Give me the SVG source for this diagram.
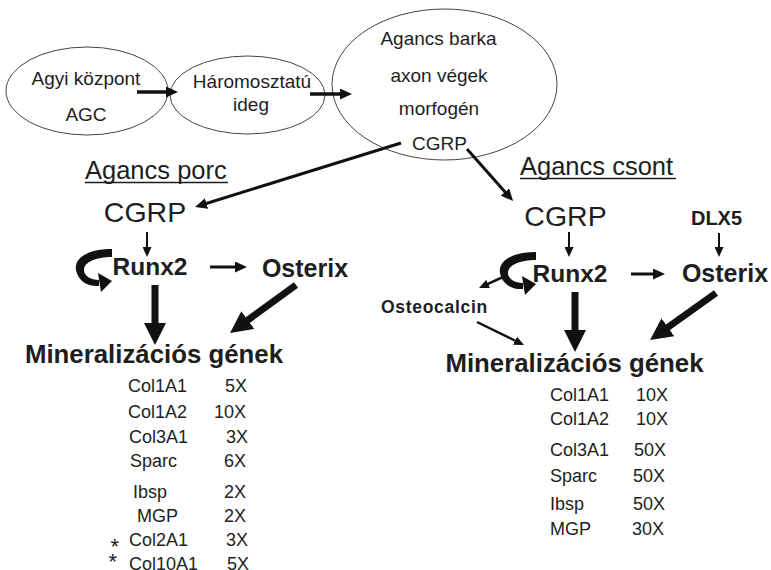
<svg xmlns="http://www.w3.org/2000/svg" width="771" height="570" viewBox="0 0 771 570">
<style>
text{font-family:"Liberation Sans",Arial,sans-serif;fill:#1e1e1e}
.e{font-size:19px}
.c{text-anchor:middle}
.h{font-size:25.5px}
.big{font-size:28.5px}
.b{font-weight:bold}
.l{font-size:18px}
.st{font-size:22px}
.ell{fill:none;stroke:#444;stroke-width:1}
.a{stroke:#111;fill:none}
</style>
<defs>
<marker id="m12" markerUnits="userSpaceOnUse" viewBox="0 0 12 11" markerWidth="12" markerHeight="11" refX="2" refY="5.5" orient="auto"><path d="M0,0 L12,5.5 L0,11 z" fill="#111"/></marker>
<marker id="m10" markerUnits="userSpaceOnUse" viewBox="0 0 10 9" markerWidth="10" markerHeight="9" refX="2" refY="4.5" orient="auto"><path d="M0,0 L10,4.5 L0,9 z" fill="#111"/></marker>
<marker id="m22" markerUnits="userSpaceOnUse" viewBox="0 0 22 22" markerWidth="22" markerHeight="22" refX="3" refY="11" orient="auto"><path d="M0,0 L22,11 L0,22 z" fill="#111"/></marker>
<g id="curl">
<path d="M112,249 C88,249 74,258 76,270 C78,281 88,287 99,286 L99,280 C91,280 84,276 84,270 C84,262 96,257 112,257 Z" fill="#111"/>
<polygon points="112,281 98,273 101,292" fill="#111"/>
</g>
</defs>

<g id="node-agyi">
<ellipse class="ell" cx="87" cy="91" rx="81" ry="44"/>
<text class="e c" x="86" y="85">Agyi központ</text>
<text class="e c" x="86" y="121">AGC</text>
</g>
<g id="node-harom">
<ellipse class="ell" cx="247.5" cy="95" rx="77.5" ry="39"/>
<text class="e c" x="252" y="88">Háromosztatú</text>
<text class="e c" x="251" y="111">ideg</text>
</g>
<g id="node-barka">
<ellipse class="ell" cx="444.5" cy="84.5" rx="112.5" ry="75.5"/>
<text class="e c" x="438.5" y="45">Agancs barka</text>
<text class="e c" x="439" y="82">axon végek</text>
<text class="e c" x="439" y="115">morfogén</text>
<text class="e c" x="439.5" y="150">CGRP</text>
</g>

<g id="title-porc">
<text class="h" x="85" y="179">Agancs porc</text>
<line x1="85" y1="182.5" x2="228" y2="182.5" stroke="#1e1e1e" stroke-width="1.6"/>
</g>
<g id="title-csont">
<text class="h" x="520" y="175">Agancs csont</text>
<line x1="520" y1="178.5" x2="676" y2="178.5" stroke="#1e1e1e" stroke-width="1.6"/>
</g>

<g id="node-cgrp-l"><text class="big c" x="145" y="222">CGRP</text></g>
<g id="node-runx2-l"><text class="b c" style="font-size:24.5px" x="150" y="275">Runx2</text></g>
<g id="node-osterix-l"><text class="b c" style="font-size:25px" x="305" y="277">Osterix</text></g>
<g id="node-min-l"><text class="b c" style="font-size:25.8px" x="154" y="363">Mineralizációs gének</text></g>

<g id="node-cgrp-r"><text class="big c" x="565.5" y="226">CGRP</text></g>
<g id="node-dlx5"><text class="b c" style="font-size:20px" x="716.5" y="225">DLX5</text></g>
<g id="node-runx2-r"><text class="b c" style="font-size:24.5px" x="570" y="282">Runx2</text></g>
<g id="node-osterix-r"><text class="b c" style="font-size:25px" x="725" y="282">Osterix</text></g>
<g id="node-osteocalcin"><text class="b" style="font-size:17.5px;letter-spacing:0.7px" x="381" y="313">Osteocalcin</text></g>
<g id="node-min-r"><text class="b c" style="font-size:25.8px" x="574.5" y="372">Mineralizációs gének</text></g>

<g id="list-l">
<text class="l" x="128" y="392">Col1A1</text><text class="l" x="225" y="392">5X</text>
<text class="l" x="128" y="418">Col1A2</text><text class="l" x="214" y="418">10X</text>
<text class="l" x="129" y="443">Col3A1</text><text class="l" x="226" y="443">3X</text>
<text class="l" x="130" y="467">Sparc</text><text class="l" x="224" y="467">6X</text>
<text class="l" x="133" y="498">Ibsp</text><text class="l" x="224" y="498">2X</text>
<text class="l" x="137" y="522">MGP</text><text class="l" x="224" y="522">2X</text>
<text class="st" x="110.5" y="553.5">*</text><text class="l" x="129" y="546">Col2A1</text><text class="l" x="226" y="546">3X</text>
<text class="st" x="108.5" y="568.5">*</text><text class="l" x="129" y="570">Col10A1</text><text class="l" x="227" y="570">5X</text>
</g>
<g id="list-r">
<text class="l" x="550" y="401">Col1A1</text><text class="l" x="636" y="401">10X</text>
<text class="l" x="550" y="425">Col1A2</text><text class="l" x="636" y="425">10X</text>
<text class="l" x="550" y="456">Col3A1</text><text class="l" x="634" y="456">50X</text>
<text class="l" x="550" y="482">Sparc</text><text class="l" x="633" y="482">50X</text>
<text class="l" x="550" y="510">Ibsp</text><text class="l" x="633" y="510">50X</text>
<text class="l" x="550" y="535">MGP</text><text class="l" x="632" y="535">30X</text>
</g>

<g id="connectors">
<line class="a" x1="137" y1="92" x2="168" y2="92" stroke-width="3.5" marker-end="url(#m12)"/>
<line class="a" x1="310" y1="94" x2="342" y2="94" stroke-width="3.5" marker-end="url(#m12)"/>
<line class="a" x1="401" y1="143" x2="204.6" y2="204" stroke-width="3" marker-end="url(#m12)"/>
<line class="a" x1="467" y1="149" x2="506.4" y2="193.5" stroke-width="3" marker-end="url(#m12)"/>
<line class="a" x1="147" y1="232" x2="147" y2="249" stroke-width="2" marker-end="url(#m10)"/>
<line class="a" x1="569" y1="232" x2="569" y2="249" stroke-width="2" marker-end="url(#m10)"/>
<line class="a" x1="719" y1="233" x2="719" y2="249" stroke-width="2" marker-end="url(#m10)"/>
<line class="a" x1="210" y1="267" x2="237" y2="267" stroke-width="3" marker-end="url(#m12)"/>
<line class="a" x1="631" y1="274" x2="655" y2="274" stroke-width="3" marker-end="url(#m12)"/>
<line class="a" x1="503" y1="277" x2="486.3" y2="284.7" stroke-width="2.5" marker-end="url(#m10)"/>
<line class="a" x1="477" y1="322" x2="516.8" y2="341.5" stroke-width="2.5" marker-end="url(#m10)"/>
<line class="a" x1="155" y1="285" x2="155" y2="326" stroke-width="7" marker-end="url(#m22)"/>
<line class="a" x1="296" y1="285" x2="245.4" y2="321.8" stroke-width="7" marker-end="url(#m22)"/>
<line class="a" x1="575" y1="292" x2="575" y2="333" stroke-width="7" marker-end="url(#m22)"/>
<line class="a" x1="716" y1="293" x2="665.5" y2="329" stroke-width="7" marker-end="url(#m22)"/>
<use href="#curl"/>
<use href="#curl" transform="translate(424,3)"/>
</g>
</svg>
